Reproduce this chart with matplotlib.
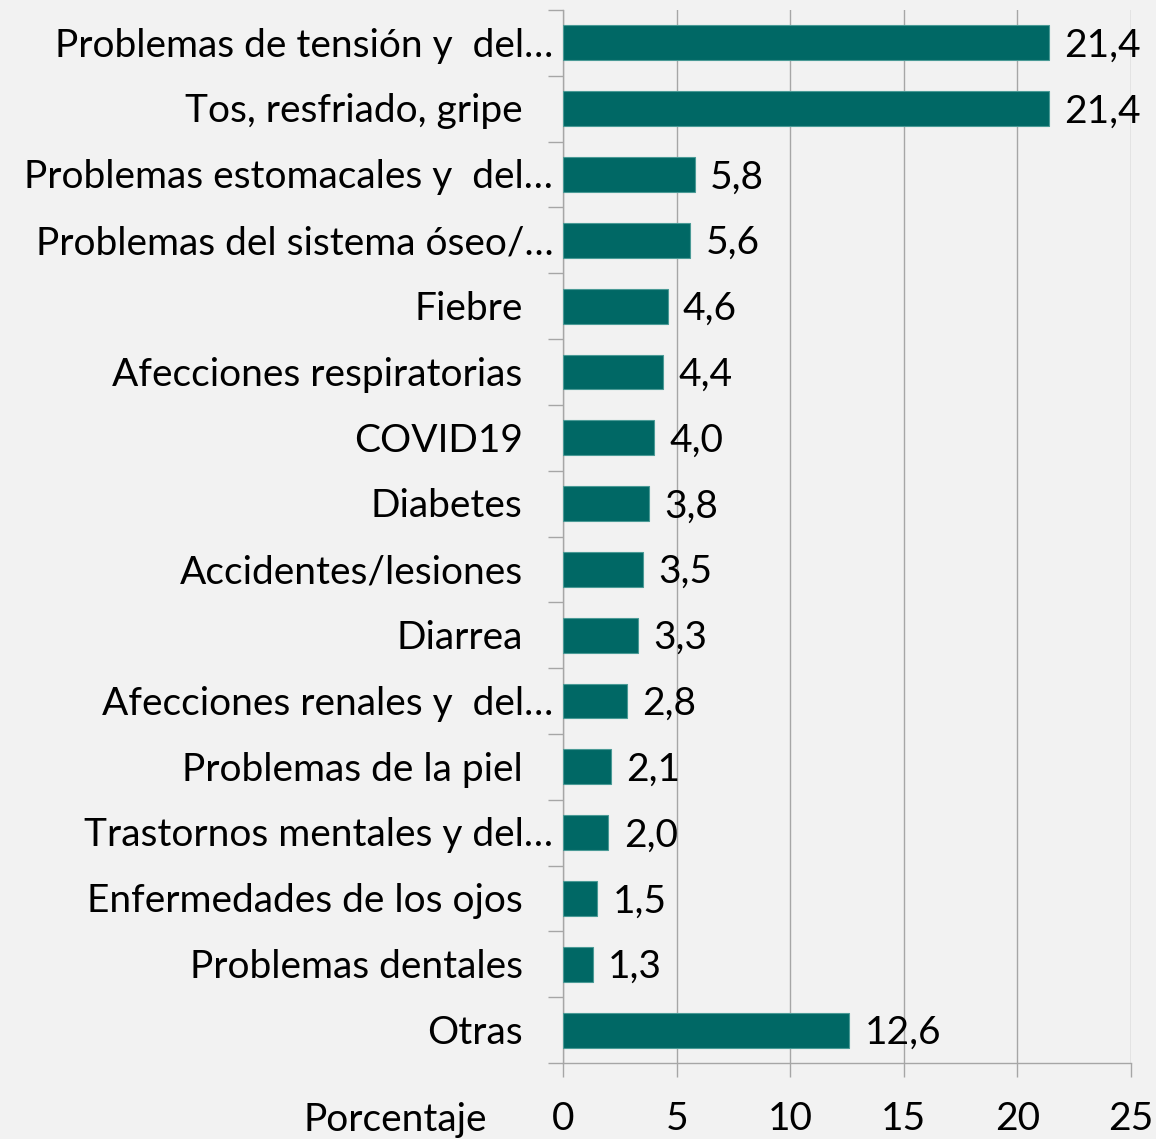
import matplotlib.pyplot as plt
from matplotlib import transforms

# Data (top to bottom as in the chart)
categories = [
    "Problemas de tensión y  del…",
    "Tos, resfriado, gripe",
    "Problemas estomacales y  del…",
    "Problemas del sistema óseo/…",
    "Fiebre",
    "Afecciones respiratorias",
    "COVID19",
    "Diabetes",
    "Accidentes/lesiones",
    "Diarrea",
    "Afecciones renales y  del…",
    "Problemas de la piel",
    "Trastornos mentales y del…",
    "Enfermedades de los ojos",
    "Problemas dentales",
    "Otras",
]
values = [21.4, 21.4, 5.8, 5.6, 4.6, 4.4, 4.0, 3.8, 3.5, 3.3, 2.8, 2.1, 2.0, 1.5, 1.3, 12.6]
xticks = [0, 5, 10, 15, 20, 25]

BG = "#f2f2f2"
BAR = "#006865"
FS = 28

plt.rcParams['font.family'] = ['Lato', 'DejaVu Sans']

fig = plt.figure(figsize=(11.56, 11.39), dpi=100, facecolor=BG)
ax = fig.add_axes([563 / 1156, 1 - 1063 / 1139, 568 / 1156, 1053 / 1139])
ax.set_facecolor(BG)

n = len(categories)
ypos = list(range(n))
ax.barh(ypos, values, height=0.53, color=BAR, edgecolor="#4a9a96", linewidth=0.8, zorder=3)
ax.set_ylim(n - 0.5, -0.5)
ax.set_xlim(0, 25)

# value labels
for y, v in zip(ypos, values):
    ax.annotate(f"{v:.1f}".replace(".", ","), (v, y), xytext=(11, -2), textcoords="offset points",
                ha="left", va="center", fontsize=FS, color="black", zorder=4)

# category labels (truncated ones spill a bit further right, as in Excel)
for y, c in zip(ypos, categories):
    xoff = -7 if c.endswith("…") else -29
    ax.annotate(c, (0, y), xytext=(xoff, -2), textcoords="offset points",
                ha="right", va="center", fontsize=FS, color="black")

ax.set_yticks([i - 0.5 for i in range(n + 1)])
ax.set_yticklabels([])
ax.tick_params(axis="y", length=11, color="#a6a6a6", width=1)

ax.set_xticks(xticks)
ax.set_xticklabels([str(t) for t in xticks], fontsize=FS)
ax.tick_params(axis="x", length=10, color="#a6a6a6", width=1, pad=17)
ax.grid(axis="x", color="#a6a6a6", linewidth=1, zorder=0)

for s in ["top", "right"]:
    ax.spines[s].set_visible(False)
for s in ["left", "bottom"]:
    ax.spines[s].set_color("#a6a6a6")
    ax.spines[s].set_linewidth(1)

fig.text(487 / 1156, 1 - 1120 / 1139, "Porcentaje", ha="right", va="center", fontsize=FS)

fig.savefig("out.png", dpi=100, facecolor=BG)
